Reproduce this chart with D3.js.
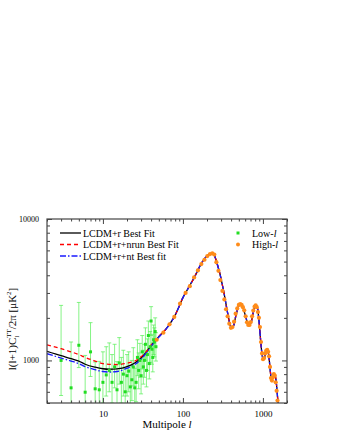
<!DOCTYPE html>
<html>
<head>
<meta charset="utf-8">
<script src="https://cdn.jsdelivr.net/npm/d3@7"></script>
<style>
  body { margin: 0; background: #fff; }
  text { font-family: "Liberation Serif", "DejaVu Serif", serif; }
</style>
</head>
<body>
<script>
// theory curves, low multipoles differ between the fits
var ellLow   = [2, 3, 4, 5, 6, 8, 10, 12, 15, 20, 25, 30, 35, 40, 50];
var blackLow = [1160, 1080, 1030, 990, 940, 895, 873, 866, 872, 905, 960, 1040, 1150, 1270, 1470];
var redLow   = [1290, 1210, 1150, 1100, 1050, 990, 950, 938, 935, 955, 990, 1060, 1160, 1285, 1480];
var blueLow  = [1115, 1040, 990, 950, 905, 860, 835, 828, 835, 880, 935, 1020, 1130, 1255, 1460];

// above l~60 all three curves coincide
var ellHigh = [60, 70, 80, 90, 100, 110, 120, 140, 160, 180, 200, 220, 235, 250, 270, 290, 310, 330, 360, 385, 405, 430, 460, 490, 515, 540, 570, 600, 640, 680, 720, 760, 800, 830, 860, 890, 930, 970, 1010, 1040, 1080, 1120, 1150, 1190, 1230, 1260, 1300, 1350, 1400, 1440, 1480, 1520, 1560, 1600];
var clHigh  = [1640, 1840, 2090, 2420, 2780, 3060, 3340, 3900, 4550, 5100, 5480, 5690, 5700, 5450, 4750, 4100, 3450, 2900, 2200, 1830, 1690, 1760, 2080, 2380, 2490, 2480, 2330, 2100, 1860, 1790, 1900, 2200, 2420, 2440, 2300, 1950, 1450, 1130, 1010, 1030, 1120, 1190, 1170, 1060, 870, 770, 740, 760, 790, 760, 670, 560, 470, 400];

// Low-l data points (value, lower, upper)
var lowL    = [3, 4, 5, 6, 7, 8, 9, 10, 11, 12, 13, 14, 15, 16, 17, 18, 19, 20, 21, 22, 23, 24, 25, 26, 27, 28, 29, 30, 31, 32, 33, 34, 35, 36, 37, 38, 39, 40, 41, 42, 43, 44, 45, 46];
var lowVal  = [1000, 640, 1280, 596, 1150, 630, 620, 700, 790, 850, 700, 900, 620, 960, 700, 800, 600, 780, 840, 650, 730, 900, 640, 700, 1050, 850, 1000, 780, 1150, 900, 1000, 1300, 850, 1100, 1500, 950, 1250, 1900, 1200, 1050, 1400, 1350, 1600, 1250];
var lowLo   = [565, 400, 890, 400, 770, 400, 400, 500, 560, 600, 500, 640, 450, 680, 500, 560, 430, 560, 600, 470, 520, 660, 460, 510, 780, 630, 760, 580, 870, 680, 760, 1000, 650, 850, 1150, 740, 970, 1500, 940, 830, 1100, 1060, 1260, 990];
var lowHi   = [2450, 1350, 2570, 1085, 1850, 975, 985, 1150, 1250, 1330, 1100, 1300, 980, 1450, 1050, 1180, 880, 1100, 1150, 920, 1000, 1230, 880, 960, 1400, 1130, 1320, 1040, 1500, 1180, 1300, 1700, 1100, 1420, 1900, 1220, 1600, 2400, 1530, 1330, 1780, 1700, 2000, 1570];

// High-l binned data
var highL   = [47, 57, 68, 78, 92, 108, 122, 138, 154, 170, 186, 202, 218, 233, 247, 262, 278, 294, 312, 330, 346, 362, 380, 398, 416, 436, 456, 478, 500, 520, 542, 562, 584, 608, 632, 656, 680, 706, 732, 758, 786, 812, 838, 866, 892, 918, 946, 975, 1004, 1034, 1066, 1098, 1130, 1162, 1194, 1226, 1260, 1296, 1332, 1370, 1408, 1446, 1484, 1522];
var highVal = [1400, 1570, 1800, 2030, 2520, 3000, 3350, 3860, 4330, 4800, 5150, 5470, 5650, 5720, 5600, 4950, 4300, 3700, 3100, 2700, 2300, 2050, 1820, 1700, 1720, 1880, 2140, 2330, 2470, 2500, 2470, 2380, 2260, 2050, 1860, 1780, 1780, 1870, 2050, 2250, 2400, 2450, 2380, 2200, 2000, 1720, 1350, 1120, 1020, 1040, 1120, 1170, 1190, 1150, 1070, 900, 750, 720, 760, 800, 780, 700, 610, 520];

var yTickVals = [10000, 1000];
var xTickVals = [10, 100, 1000];

var W = 340, H = 440,
    margin = { top: 219, right: 53, bottom: 37, left: 47 },
    width  = W - margin.left - margin.right,
    height = H - margin.top - margin.bottom;

var x = d3.scaleLog().domain([2, 2000]).range([0, width]);
var y = d3.scaleLog().domain([500, 10000]).range([height, 0]);

var svg = d3.select('body').append('svg')
    .attr('width', W)
    .attr('height', H);

var g = svg.append('g')
    .attr('transform', 'translate(' + margin.left + ',' + margin.top + ')');

g.append('clipPath').attr('id', 'clip')
  .append('rect').attr('width', width).attr('height', height);

var plot = g.append('g').attr('clip-path', 'url(#clip)');

// minor ticks helper
function minorTicks(dom) {
    var out = [];
    for (var p = Math.floor(Math.log10(dom[0])); p <= Math.ceil(Math.log10(dom[1])); p++) {
        for (var k = 1; k < 10; k++) {
            var v = k * Math.pow(10, p);
            if (v >= dom[0] && v <= dom[1]) out.push(v);
        }
    }
    return out;
}
var xMinor = minorTicks(x.domain()).filter(function(v) { return xTickVals.indexOf(v) < 0; });
var yMinor = minorTicks(y.domain()).filter(function(v) { return yTickVals.indexOf(v) < 0; });

var axisCol = '#444';

// axes with inward ticks on all sides
function drawAxis(axis, tr) {
    var a = g.append('g').attr('transform', tr).call(axis);
    a.select('.domain').remove();
    a.selectAll('line').attr('stroke', axisCol);
    return a;
}
drawAxis(d3.axisBottom(x).tickValues(xTickVals).tickSize(-5).tickFormat(d3.format('d')).tickPadding(8), 'translate(0,' + height + ')')
    .selectAll('text').attr('font-size', 9).attr('fill', '#000');
drawAxis(d3.axisBottom(x).tickValues(xMinor).tickSize(-2.5).tickFormat(''), 'translate(0,' + height + ')');
drawAxis(d3.axisTop(x).tickValues(xTickVals).tickSize(-5).tickFormat(''), 'translate(0,0)');
drawAxis(d3.axisTop(x).tickValues(xMinor).tickSize(-2.5).tickFormat(''), 'translate(0,0)');
drawAxis(d3.axisLeft(y).tickValues(yTickVals).tickSize(-5).tickFormat(d3.format('d')).tickPadding(8), 'translate(0,0)')
    .selectAll('text').attr('font-size', 8).attr('fill', '#000');
drawAxis(d3.axisLeft(y).tickValues(yMinor).tickSize(-3).tickFormat(''), 'translate(0,0)');
drawAxis(d3.axisRight(y).tickValues(yTickVals).tickSize(-5).tickFormat(''), 'translate(' + width + ',0)');
drawAxis(d3.axisRight(y).tickValues(yMinor).tickSize(-3).tickFormat(''), 'translate(' + width + ',0)');

g.append('rect')
    .attr('width', width).attr('height', height)
    .attr('fill', 'none').attr('stroke', axisCol).attr('stroke-width', 1.2);

// green low-l error bars
var green = '#55f055';
var lowData = lowL.map(function(l, i) { return { l: l, v: lowVal[i], lo: lowLo[i], hi: lowHi[i] }; });
var eb = plot.selectAll('.eb').data(lowData).enter().append('g').attr('class', 'eb');
eb.append('line')
    .attr('x1', function(d) { return x(d.l); }).attr('x2', function(d) { return x(d.l); })
    .attr('y1', function(d) { return y(d.lo); }).attr('y2', function(d) { return y(d.hi); })
    .attr('stroke', green).attr('stroke-width', 1).attr('opacity', 0.7);
['lo', 'hi'].forEach(function(k) {
    eb.append('line')
        .attr('x1', function(d) { return x(d.l) - 2; }).attr('x2', function(d) { return x(d.l) + 2; })
        .attr('y1', function(d) { return y(d[k]); }).attr('y2', function(d) { return y(d[k]); })
        .attr('stroke', green).attr('stroke-width', 1).attr('opacity', 0.7);
});

// theory lines
var line = d3.line()
    .x(function(d) { return x(d[0]); })
    .y(function(d) { return y(d[1]); })
    .curve(d3.curveMonotoneX);

var ellAll = ellLow.concat(ellHigh);
var curves = [
    { vals: blackLow.concat(clHigh), color: '#000', dash: null },
    { vals: redLow.concat(clHigh),   color: '#ff0000', dash: '4,3' },
    { vals: blueLow.concat(clHigh),  color: '#1a1aff', dash: '6,2,1.5,2' }
];
curves.forEach(function(c) {
    plot.append('path')
        .datum(ellAll.map(function(l, i) { return [l, c.vals[i]]; }))
        .attr('d', line)
        .attr('fill', 'none')
        .attr('stroke', c.color)
        .attr('stroke-width', 1.3)
        .attr('stroke-dasharray', c.dash);
});

// green points
plot.selectAll('.lowpt').data(lowData).enter().append('rect')
    .attr('class', 'lowpt')
    .attr('x', function(d) { return x(d.l) - 1.5; })
    .attr('y', function(d) { return y(d.v) - 1.5; })
    .attr('width', 3).attr('height', 3)
    .attr('fill', '#22dd22');

// orange points
plot.selectAll('.highpt').data(highL).enter().append('circle')
    .attr('cx', function(d) { return x(d); })
    .attr('cy', function(d, i) { return y(highVal[i]); })
    .attr('r', 2.1)
    .attr('fill', '#ff8c1a');

// legend, lines
var legLines = [
    { label: 'LCDM+r Best Fit', c: curves[0] },
    { label: 'LCDM+r+nrun Best Fit', c: curves[1] },
    { label: 'LCDM+r+nt Best fit', c: curves[2] }
];
legLines.forEach(function(d, i) {
    var yy = 14 + i * 11.5;
    g.append('line')
        .attr('x1', 13).attr('x2', 34).attr('y1', yy).attr('y2', yy)
        .attr('stroke', d.c.color).attr('stroke-width', 1.3)
        .attr('stroke-dasharray', d.c.dash);
    g.append('text')
        .attr('x', 36).attr('y', yy + 3.5)
        .attr('font-size', 10)
        .text(d.label);
});

// legend, points
var legPts = [
    { label: 'Low-', color: '#22dd22', sq: true },
    { label: 'High-', color: '#ff8c1a', sq: false }
];
legPts.forEach(function(d, i) {
    var yy = 14 + i * 11.5;
    if (d.sq) {
        g.append('rect').attr('x', 189.5).attr('y', yy - 1.5).attr('width', 3).attr('height', 3).attr('fill', d.color);
    } else {
        g.append('circle').attr('cx', 191).attr('cy', yy).attr('r', 2).attr('fill', d.color);
    }
    var t = g.append('text').attr('x', 205).attr('y', yy + 3.5).attr('font-size', 10);
    t.append('tspan').text(d.label);
    t.append('tspan').attr('font-style', 'italic').text('l');
});

// axis titles
var xt = svg.append('text')
    .attr('x', margin.left + width / 2).attr('y', 428)
    .attr('text-anchor', 'middle').attr('font-size', 11);
xt.append('tspan').text('Multipole ');
xt.append('tspan').attr('font-style', 'italic').text('l');

var yt = svg.append('text')
    .attr('transform', 'translate(16,329) rotate(-90)')
    .attr('text-anchor', 'middle').attr('font-size', 11);
yt.append('tspan').text('l(l+1)C');
yt.append('tspan').attr('font-size', 7).attr('dy', 3).text('l');
yt.append('tspan').attr('font-size', 7).attr('dx', -2).attr('dy', -8).text('TT');
yt.append('tspan').attr('dy', 5).text('/2π [μK');
yt.append('tspan').attr('font-size', 7).attr('dy', -5).text('2');
yt.append('tspan').attr('dy', 5).text(']');
</script>
</body>
</html>
